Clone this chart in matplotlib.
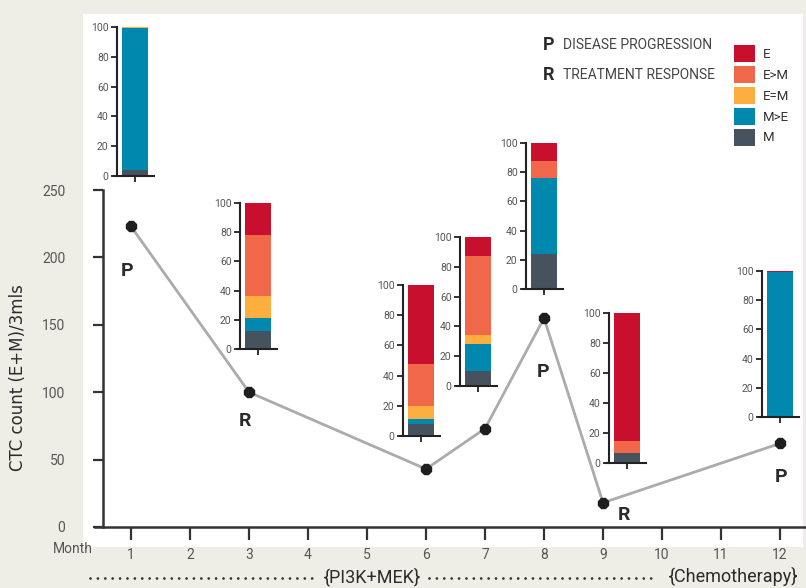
import matplotlib
matplotlib.use("Agg")
import matplotlib.pyplot as plt
from matplotlib.patches import Patch, Rectangle
from matplotlib.lines import Line2D

# ---- data -------------------------------------------------------------
months = [1, 3, 6, 7, 8, 9, 12]
ctc_count = [223, 100, 43, 73, 155, 18, 62]
point_labels = ["P", "R", "", "", "P", "R", "P"]

month_ticks = list(range(1, 13))
y_ticks = [0, 50, 100, 150, 200, 250]
inset_ticks = [0, 20, 40, 60, 80, 100]

# phenotype composition (%) per time point, stacked bottom -> top
categories = ["M", "M>E", "E=M", "E>M", "E"]
pct_m = [4, 12, 8, 10, 24, 7, 0]
pct_m_gt_e = [95, 9, 3, 18, 52, 0, 99]
pct_e_eq_m = [1, 15, 9, 6, 0, 0, 0]
pct_e_gt_m = [0, 42, 28, 53, 12, 8, 0]
pct_e = [0, 22, 52, 13, 12, 85, 1]

colors = {
    "E": "#c8102e",
    "E>M": "#f0674a",
    "E=M": "#fcae3f",
    "M>E": "#0088ae",
    "M": "#46535e",
}

# ---- layout (pixels) --------------------------------------------------
W, H = 806, 588
BG = "#efeee6"
INK = "#2b2b2b"
GREY = "#555555"
DIN = ["Roboto", "DejaVu Sans"]

# inset spine x, y of 0, y of 100
inset_px = [
    (117, 176, 27),
    (240, 349, 203),
    (403, 436, 285),
    (460, 386, 237),
    (526, 289, 143),
    (609, 463, 313),
    (762, 417, 271),
]
label_offsets = [(-3, -32), (-3, -21), (0, 0), (0, 0), (-1, -39), (15, -9), (1, -24)]


def px_box(x0, y0, x1, y1):
    return [x0 / W, 1 - y1 / H, (x1 - x0) / W, (y1 - y0) / H]


fig = plt.figure(figsize=(W / 100, H / 100), dpi=100, facecolor=BG)
fig.add_artist(Rectangle((83 / W, 1 - 547 / H), (803 - 83) / W, (547 - 14) / H,
                         transform=fig.transFigure, facecolor="white",
                         edgecolor="none", zorder=0))

# ---- main chart -------------------------------------------------------
ax = fig.add_axes(px_box(95, 190, 806, 527))
ax.set_facecolor("none")
ax.set_xlim(0.39, 12.44)
ax.set_ylim(0, 250)
ax.plot(months, ctc_count, color="#ababab", lw=2, zorder=2, clip_on=False)
ax.plot(months, ctc_count, ls="none", marker="8", ms=8, color="#1e1e1e",
        zorder=3, clip_on=False)
for m, v, lab, off in zip(months, ctc_count, point_labels, label_offsets):
    if lab:
        ax.annotate(lab, (m, v), xytext=off, textcoords="offset points",
                    ha="center", va="center", fontsize=14, fontweight="bold",
                    color=INK, family=DIN)

for side in ("top", "right"):
    ax.spines[side].set_visible(False)
ax.spines["left"].set_position(("data", 0.525))
for side in ("left", "bottom"):
    ax.spines[side].set_color("#333333")
    ax.spines[side].set_linewidth(1.8)
ax.set_xticks(month_ticks)
ax.set_yticks(y_ticks)
ax.tick_params(axis="x", direction="out", length=9, width=1.6, color="#333333",
               labelsize=10, labelcolor=GREY, pad=6)
ax.tick_params(axis="y", direction="out", length=7, width=1.6, color="#333333",
               labelsize=10, labelcolor=GREY, pad=20)
for t in ax.get_xticklabels() + ax.get_yticklabels():
    t.set_family(DIN)

fig.text(73 / W, 1 - 549 / H, "Month", ha="center", va="center", fontsize=10,
         color=GREY, family=DIN)
fig.text(18 / W, 1 - 378 / H, "CTC count (E+M)/3mls", rotation=90, ha="center",
         va="center", fontsize=12, color=INK)

# ---- composition insets ----------------------------------------------
stack = [pct_m, pct_m_gt_e, pct_e_eq_m, pct_e_gt_m, pct_e]
for i, (sx, y0, y100) in enumerate(inset_px):
    iax = fig.add_axes(px_box(sx - 3, y100, sx + 37, y0))
    iax.set_facecolor("none")
    bottom = 0
    for cat, vals in zip(categories, stack):
        if vals[i] > 0:
            iax.bar(0, vals[i], width=1, bottom=bottom, color=colors[cat],
                    edgecolor="none", antialiased=False)
        bottom += vals[i]
    iax.set_xlim(-0.808, 0.73)
    iax.set_ylim(0, 100)
    for side in ("top", "right"):
        iax.spines[side].set_visible(False)
    iax.spines["left"].set_position(("data", -0.692))
    for side in ("left", "bottom"):
        iax.spines[side].set_color("#222222")
        iax.spines[side].set_linewidth(1.5)
    iax.set_xticks([0])
    iax.set_xticklabels([])
    iax.set_yticks(inset_ticks)
    iax.tick_params(direction="out", length=4, width=1.3, color="#222222",
                    labelsize=7.5, labelcolor=GREY, pad=2)
    for t in iax.get_yticklabels():
        t.set_family(DIN)

# ---- keys -------------------------------------------------------------
for y, key, desc in [(45, "P", "DISEASE PROGRESSION"), (75, "R", "TREATMENT RESPONSE")]:
    fig.text(549 / W, 1 - y / H, key, ha="center", va="center", fontsize=13,
             fontweight="bold", color=INK, family=DIN)
    fig.text(563 / W, 1 - y / H, desc, ha="left", va="center", fontsize=10,
             color="#444444", family=DIN)

handles = [Patch(facecolor=colors[c], edgecolor="none") for c in categories[::-1]]
fig.legend(handles, categories[::-1], loc="upper left",
           bbox_to_anchor=(734 / W, 1 - 45 / H), frameon=False,
           handlelength=1.6, handleheight=1.6, labelspacing=0.3,
           handletextpad=0.6, borderpad=0, borderaxespad=0,
           prop={"family": DIN, "size": 9.5}, labelcolor="#333333")

# ---- treatment timeline ----------------------------------------------
ty = 1 - 578 / H
dots = dict(color="#333333", lw=2, ls=(0, (0.01, 2.65)),
            transform=fig.transFigure, dash_capstyle="round")
fig.add_artist(Line2D([90 / W, 316 / W], [ty, ty], **dots))
fig.add_artist(Line2D([429 / W, 657 / W], [ty, ty], **dots))
fig.text(372 / W, ty + 0.002, "{PI3K+MEK}", ha="center", va="center",
         fontsize=13, color=INK, family=DIN)
fig.text(733 / W, ty + 0.002, "{Chemotherapy}", ha="center", va="center",
         fontsize=13, color=INK, family=DIN)

fig.savefig("out.png", dpi=100, facecolor=BG)
